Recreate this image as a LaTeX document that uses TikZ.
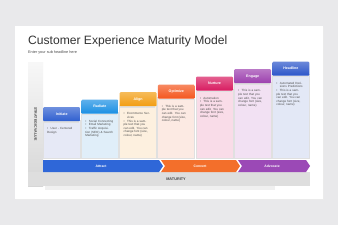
\documentclass[tikz,border=0pt]{standalone}
\usepackage{fontspec}
\setmainfont{Liberation Sans}
\usepackage{xcolor}
\usetikzlibrary{arrows.meta,calc,positioning}
\definecolor{hd1}{HTML}{2F5FD0}\definecolor{bd1}{HTML}{E6E9F6}
\definecolor{hd2}{HTML}{1A8FE3}\definecolor{bd2}{HTML}{E0EEF9}
\definecolor{hd3}{HTML}{F29D12}\definecolor{bd3}{HTML}{FDF0DF}
\definecolor{hd4}{HTML}{F4561E}\definecolor{bd4}{HTML}{FCEAE3}
\definecolor{hd5}{HTML}{D81B60}\definecolor{bd5}{HTML}{F9DCE8}
\definecolor{hd6}{HTML}{9C3FAE}\definecolor{bd6}{HTML}{F2E1F3}
\definecolor{hd7}{HTML}{2B55C9}\definecolor{bd7}{HTML}{E3E8F6}
\definecolor{arA}{HTML}{2F67D8}\definecolor{arB}{HTML}{F36F2B}\definecolor{arC}{HTML}{9B49B6}
\definecolor{slidebg}{HTML}{E9E9EB}
\newcommand{\itm}[1]{\par\hangindent=3.5pt\hangafter=1\noindent\makebox[3.5pt][l]{\textbullet}#1}
\tikzset{
  head/.style={rounded corners=1pt,minimum width=37pt,minimum height=14pt,inner sep=0pt,anchor=north west,text=white,font=\fontsize{3.6}{4}\selectfont\bfseries},
  bodytxt/.style={anchor=north west,inner sep=0pt,text width=28pt,align=left,text=black!70,font=\fontsize{3}{3.6}\selectfont},
  bandtxt/.style={text=white,font=\fontsize{3.4}{4}\selectfont\bfseries,inner sep=0pt}
}

\begin{document}
\begin{tikzpicture}[x=1pt,y=-1pt]
\useasboundingbox (0,0) rectangle (338,225);
\fill[slidebg] (0,0) rectangle (338,225);
\fill[black!8] (16,27) rectangle (324,200); \fill[white] (15,26) rectangle (323,199);
\node[anchor=base west,inner sep=0pt,text=black!80,font=\fontsize{12.1}{14}\selectfont] (title) at (28,44) {Customer Experience Maturity Model};
\node[anchor=base west,inner sep=0pt,text=black!70,font=\fontsize{3.8}{4.5}\selectfont] (subtitle) at (28,53) {Enter your sub headline here};
% axis
\shade[top color=black!3,bottom color=black!16] (28,62) rectangle (43,186);
\fill[black!6] (45,186) rectangle (275,190);
\fill[black!13] (28,172) rectangle (310,186);
\node[rotate=-90,inner sep=0pt,text=black!75,font=\fontsize{3.6}{4}\selectfont\bfseries] (yaxis) at (35.5,124) {STRATEGIC VALUE};
\node[inner sep=0pt,text=black!75,font=\fontsize{3.8}{4}\selectfont\bfseries] (xaxis) at (176,179.5) {MATURITY};
% columns
\foreach \i/\tp/\lbl/\txt in {
 1/107/Initiate/{\itm{User - Centered Design}},
 2/99.5/Radiate/{\itm{Social Connecting}\itm{Email Marketing}\itm{Traffic Acquisition (SEO) \& Search Marketing}},
 3/92/Align/{\itm{Ecommerce Services}\itm{This is a sample text that you can edit. You can change font (size, colour, name)}},
 4/84.5/Optimize/{\itm{This is a sample text that you can edit. You can change font (size, colour, name)}},
 5/76.5/Nurture/{\itm{Automation}\itm{This is a sample text that you can edit. You can change font (size, colour, name)}},
 6/69/Engage/{\itm{This is a sample text that you can edit. You can change font (size, colour, name)}},
 7/61.5/Headline/{\itm{Automated Decisions Predictions}\itm{This is a sample text that you can edit. You can change font (size, colour, name)}}}{
 \pgfmathsetmacro\xl{43+38.2*(\i-1)}
 \fill[bd\i,draw=black!12,line width=.3pt] (\xl,\tp+13) rectangle (\xl+37,158);
 \fill[black!12] (\xl+1,\tp+14) rectangle (\xl+36,\tp+15.5);
 \node[head,top color=hd\i!70!white,bottom color=hd\i] (h\i) at (\xl,\tp) {\lbl};
 \node[bodytxt] (t\i) at (\xl+4,\tp+19) {\txt};
}
% bands
\fill[arA] (43,160) -- (159,160) -- (163,166) -- (159,172) -- (43,172) -- cycle;
\fill[arB] (161,160) -- (236,160) -- (240,166) -- (236,172) -- (161,172) -- (165,166) -- cycle;
\fill[arC] (238,160) -- (306,160) -- (310,166) -- (306,172) -- (238,172) -- (242,166) -- cycle;
\node[bandtxt] (attract) at (101,166) {Attract};
\node[bandtxt] (convert) at (200,166) {Convert};
\node[bandtxt] (advocate) at (272,166) {Advocate};
\end{tikzpicture}
\end{document}
